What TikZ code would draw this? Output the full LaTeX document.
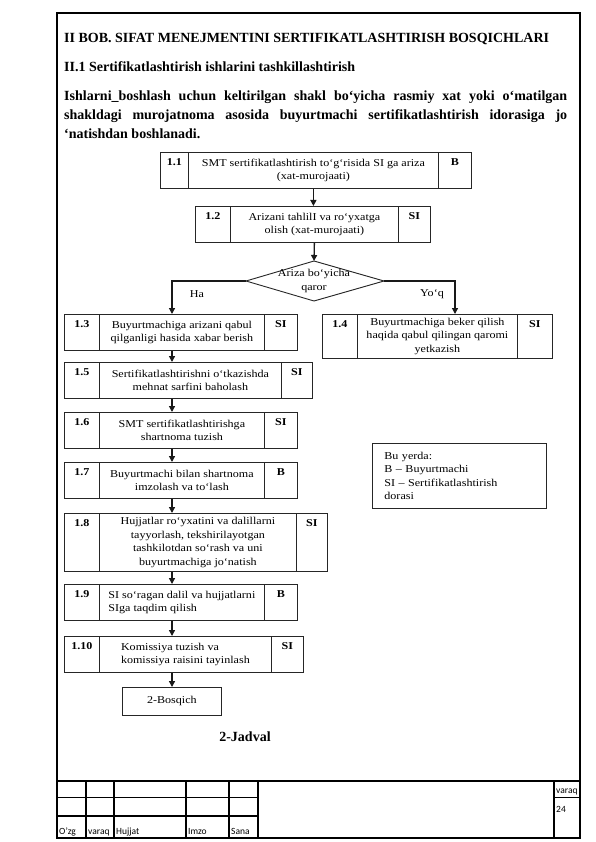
\documentclass[tikz,border=0pt]{standalone}
\usepackage{fontspec}
\setmainfont{Liberation Serif}
\newfontfamily\boxfont[FakeStretch=1.15,Ligatures=TeX]{Liberation Serif}
\newfontfamily\footfont{Carlito}
\usetikzlibrary{arrows.meta,calc}
\def\splittag#1/#2\relax{\def\tagnum{#1}\def\taglet{#2}}
\newcommand\cellrow[9]{%
  \pgfmathsetmacro\wa{#6-#2}%
  \pgfmathsetmacro\wb{#7-#6}%
  \pgfmathsetmacro\wc{#4-#7}%
  \pgfmathsetmacro\hh{#5-#3}%
  \node[cell,minimum width=\wa pt,minimum height=\hh pt] (#1n) at (#2,#3) {};
  \node[cell,minimum width=\wb pt,minimum height=\hh pt,celltxt] (#1t) at (#6,#3) {#9};
  \node[cell,minimum width=\wc pt,minimum height=\hh pt] (#1l) at (#7,#3) {};
  \splittag#8\relax
  \node[tag] at ([yshift=-6pt]#1n.north) {\tagnum};
  \node[tag] at ([yshift=-6pt]#1l.north) {\taglet};
}
\begin{document}
\begin{tikzpicture}[x=1pt,y=-1pt,
  cell/.style={draw=black!85, line width=0.8pt, inner sep=0pt, anchor=north west},
  celltxt/.style={font=\boxfont\fontsize{10.5}{13.5}\selectfont, align=center},
  tag/.style={font=\boxfont\bfseries\fontsize{10.5}{13.5}\selectfont, anchor=north, inner sep=0pt},
  flow/.style={draw=black!90, line width=1.3pt, -{Triangle[length=6pt,width=6pt]}},
  heading/.style={font=\bfseries\fontsize{14}{19}\selectfont, inner sep=0pt},
  foot/.style={font=\footfont\fontsize{9.5}{10}\selectfont, inner sep=0pt, anchor=base west},
  thickrule/.style={line width=2pt},
  midrule/.style={line width=1.5pt},
  thinrule/.style={line width=0.9pt}]
\useasboundingbox (0,0) rectangle (595,842);
\fill[white] (0,0) rectangle (595,842);
% page frame
\draw[thickrule] (57,13) rectangle (580,838);
% headings
\node[heading, anchor=base west] (title) at (64,43) {II BOB. SIFAT MENEJMENTINI SERTIFIKATLASHTIRISH BOSQICHLARI};
\node[heading, anchor=base west] (sub) at (64,72) {II.1 Sertifikatlashtirish ishlarini tashkillashtirish};
\node[heading, anchor=north west, text width=503pt, align=justify] (para) at (64,91)
  {Ishlarni\_boshlash uchun keltirilgan shakl bo‘yicha rasmiy xat yoki o‘matilgan\linebreak
   shakldagi murojatnoma asosida buyurtmachi sertifikatlashtirish idorasiga jo\linebreak
   ‘natishdan boshlanadi.};
% flow boxes
\cellrow{b11}{160}{152}{471}{188}{188}{438}{1.1/B}{SMT sertifikatlashtirish to‘g‘risida SI ga ariza\\(xat-murojaati)}
\cellrow{b12}{195}{206}{430}{242}{230}{398}{1.2/SI}{Arizani tahlilI va ro‘yxatga\\olish (xat-murojaati)}
\cellrow{b13}{64}{314}{297}{350}{99}{264}{1.3/SI}{Buyurtmachiga arizani qabul\\qilganligi hasida xabar berish}
\cellrow{b14}{322}{314}{552}{358}{357}{517}{1.4/SI}{Buyurtmachiga beker qilish\\haqida qabul qilingan qaromi\\yetkazish}
\cellrow{b15}{64}{362}{312}{398}{99}{281}{1.5/SI}{Sertifikatlashtirishni o‘tkazishda\\mehnat sarfini baholash}
\cellrow{b16}{64}{412}{297}{448}{99}{264}{1.6/SI}{SMT sertifikatlashtirishga\\shartnoma tuzish}
\cellrow{b17}{64}{462}{297}{498}{99}{264}{1.7/B}{Buyurtmachi bilan shartnoma\\imzolash va to‘lash}
\cellrow{b18}{64}{513}{327}{571}{99}{296}{1.8/SI}{Hujjatlar ro‘yxatini va dalillarni\\tayyorlash, tekshirilayotgan\\tashkilotdan so‘rash va uni\\buyurtmachiga jo‘natish}
\cellrow{b19}{64}{584}{297}{620}{99}{264}{1.9/B}{\begin{tabular}{@{}l@{}}SI so‘ragan dalil va hujjatlarni\\SIga taqdim qilish\end{tabular}}
\cellrow{b110}{64}{636}{303}{672}{99}{271}{1.10/SI}{\begin{tabular}{@{}l@{}}Komissiya tuzish va\\komissiya raisini tayinlash\end{tabular}}
\node[cell, minimum width=99pt, minimum height=28pt, celltxt] (bq) at (122,687) {2-Bosqich};
% decision
\coordinate (dt) at (314,261);
\coordinate (db) at (314,301);
\coordinate (dl) at (246,281);
\coordinate (dr) at (384,281);
\draw[draw=black!85, line width=0.9pt] (dt) -- (dr) -- (db) -- (dl) -- cycle;
\node[celltxt, inner sep=0pt] (dec) at (314,281) {Ariza bo‘yicha\\qaror};
\node[celltxt, inner sep=0pt] (ha) at (197,294) {Ha};
\node[celltxt, inner sep=0pt] (yoq) at (432,294) {Yo‘q};
% legend
\node[cell, minimum width=174pt, minimum height=65pt, inner xsep=12pt, text width=150pt, align=left,
  font=\boxfont\fontsize{10.5}{13.5}\selectfont] (leg) at (372,443)
  {Bu yerda:\\B – Buyurtmachi\\SI – Sertifikatlashtirish\\dorasi};
\node[heading] (jadval) at (245,737) {2-Jadval};
% connectors
\coordinate (ax) at (172,0);
\coordinate (bx) at (455,0);
\draw[flow] (b11t.south) -- (b11t.south |- b12t.north);
\draw[flow] (b12t.south) -- (dt);
\draw[flow] (dl) -| (b13t.north -| ax);
\draw[flow] (dr) -| (b14t.north -| bx);
\draw[flow] (b13t.south -| ax) -- (b15t.north -| ax);
\draw[flow] (b15t.south -| ax) -- (b16t.north -| ax);
\draw[flow] (b16t.south -| ax) -- (b17t.north -| ax);
\draw[flow] (b17t.south -| ax) -- (b18t.north -| ax);
\draw[flow] (b18t.south -| ax) -- (b19t.north -| ax);
\draw[flow] (b19t.south -| ax) -- (b110t.north -| ax);
\draw[flow] (b110t.south -| ax) -- (bq.north -| ax);
% footer
\draw[thickrule] (57,781) -- (580,781);
\foreach \xx in {86,114,186,229,258} {\draw[midrule] (\xx,781) -- (\xx,838);}
\draw[thickrule] (554,781) -- (554,838);
\draw[thinrule] (57,797) -- (258,797);
\draw[midrule] (57,816) -- (258,816);
\draw[thinrule] (554,797) -- (580,797);
\node[foot] (f1) at (59,834) {O’zg};
\node[foot] (f2) at (88,834) {varaq};
\node[foot] (f3) at (116,834) {Hujjat};
\node[foot] (f4) at (188,834) {Imzo};
\node[foot] (f5) at (231,834) {Sana};
\node[foot] (f6) at (556,793) {varaq};
\node[foot] (f7) at (556,812) {24};
\end{tikzpicture}
\end{document}
